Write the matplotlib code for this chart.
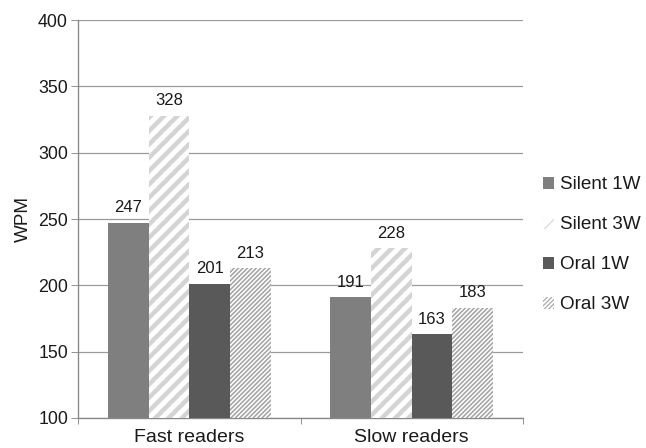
import numpy as np
import matplotlib
matplotlib.use("Agg")
import matplotlib.pyplot as plt

plt.rcParams['font.family'] = ['Liberation Sans', 'DejaVu Sans']

# reading speed (words per minute) per group
groups = ['Fast readers', 'Slow readers']
series = ['Silent 1W', 'Silent 3W', 'Oral 1W', 'Oral 3W']
silent_1w = [247, 191]
silent_3w = [328, 228]
oral_1w = [201, 163]
oral_3w = [213, 183]
yticks = [100, 150, 200, 250, 300, 350, 400]

values = [silent_1w, silent_3w, oral_1w, oral_3w]
# (face, stripe colour, hatch, hatch linewidth)
styles = [
    ('#7f7f7f', '#7f7f7f', None, 1.0),
    ('white', '#d4d4d4', '//', 4.0),
    ('#595959', '#595959', None, 1.0),
    ('white', '#a3a3a3', '//////', 1.4),
]

DPI = 80
fig = plt.figure(figsize=(646 / DPI, 448 / DPI), dpi=DPI)
ax = fig.add_axes([78 / 646, 30 / 448, 445 / 646, 398 / 448])

x = np.arange(len(groups))
bw = 0.183
for i, (vals, (fc, ec, hatch, hlw)) in enumerate(zip(values, styles)):
    offs = (i - 1.5) * bw
    with plt.rc_context({'hatch.linewidth': hlw}):
        bars = ax.bar(x + offs, np.array(vals) - 100, bw, bottom=100,
                      facecolor=fc, edgecolor=ec, hatch=hatch,
                      linewidth=0, zorder=3, label=series[i])
    for b in bars:
        if hasattr(b, 'set_hatch_linewidth'):
            b.set_hatch_linewidth(hlw)
    for xi, v in zip(x + offs, vals):
        ax.annotate(str(v), (xi, v), xytext=(0, 9.5), textcoords='offset points',
                    ha='center', va='baseline', fontsize=15, color='#1a1a1a')

ax.set_xlim(-0.5, 1.5)
ax.set_ylim(100, 400)
ax.set_yticks(yticks)
ax.set_xticks([-0.5, 0.5, 1.5])
ax.set_xticklabels([])
ax.set_xticks(x, minor=True)
ax.set_xticklabels(groups, minor=True)
ax.tick_params(axis='x', which='minor', length=0, pad=10, labelsize=17.5,
               labelcolor='#1a1a1a')
ax.tick_params(axis='x', which='major', length=5, color='#888888')
ax.tick_params(axis='y', length=6, color='#888888', pad=3, labelsize=16,
               labelcolor='#1a1a1a')

ax.yaxis.grid(True, color='#9a9a9a', linewidth=1.1, zorder=0)
ax.set_axisbelow(True)
for s in ['top', 'right']:
    ax.spines[s].set_visible(False)
for s in ['left', 'bottom']:
    ax.spines[s].set_color('#888888')
    ax.spines[s].set_linewidth(1.2)

ax.set_ylabel('WPM', fontsize=17, labelpad=6, color='#1a1a1a')

leg = ax.legend(loc='center left', bbox_to_anchor=(1.028, 0.435), frameon=False,
                fontsize=17, handlelength=0.58, handleheight=0.58,
                handletextpad=0.3, labelspacing=1.22, borderaxespad=0)
for t in leg.get_texts():
    t.set_color('#1a1a1a')

fig.savefig('out.png', dpi=DPI)
